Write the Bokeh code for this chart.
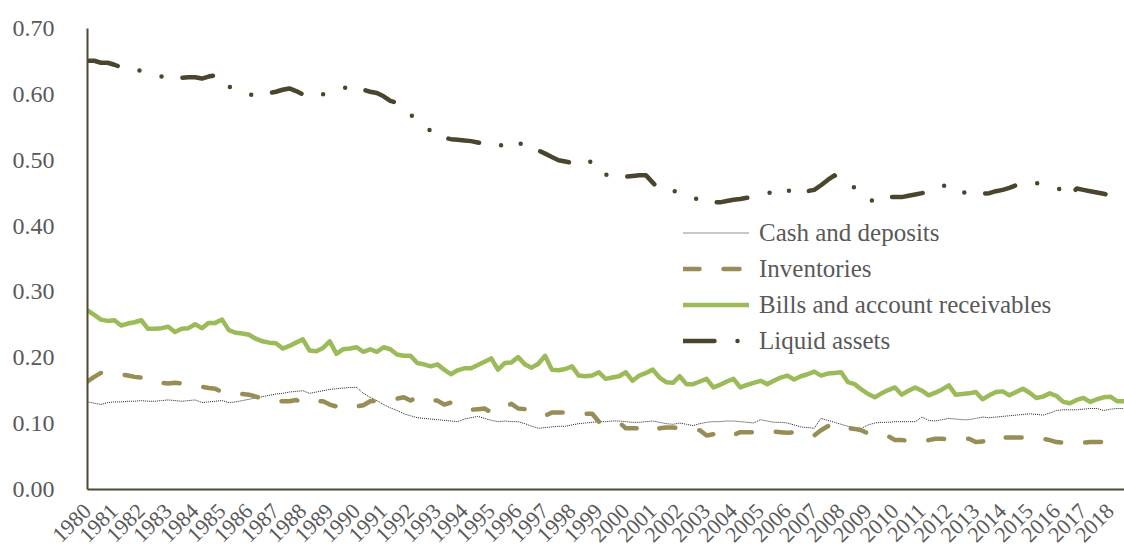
from bokeh.plotting import figure
from bokeh.models import Range1d, FixedTicker, PrintfTickFormatter, Legend, LegendItem
from bokeh.embed import file_html
from bokeh.resources import INLINE
import math

# ---------------- data (quarterly, 1980Q1 .. 2018Q3) ----------------
years = [str(y) for y in range(1980, 2019)]

cash_deposits = [
    0.133, 0.131, 0.129, 0.132, 0.133, 0.133, 0.134, 0.134, 0.135, 0.134,
    0.134, 0.135, 0.136, 0.135, 0.134, 0.135, 0.136, 0.132, 0.133, 0.134,
    0.135, 0.132, 0.133, 0.135, 0.137, 0.139, 0.141, 0.143, 0.145, 0.146,
    0.148, 0.149, 0.150, 0.146, 0.148, 0.150, 0.152, 0.153, 0.154, 0.155,
    0.155, 0.146, 0.140, 0.135, 0.129, 0.124, 0.120, 0.115, 0.112, 0.109,
    0.108, 0.107, 0.106, 0.105, 0.104, 0.103, 0.107, 0.109, 0.111, 0.108,
    0.105, 0.103, 0.104, 0.103, 0.103, 0.100, 0.096, 0.093, 0.094, 0.095,
    0.096, 0.096, 0.098, 0.100, 0.101, 0.102, 0.103, 0.103, 0.104, 0.104,
    0.103, 0.102, 0.102, 0.103, 0.104, 0.102, 0.100, 0.099, 0.101, 0.099,
    0.097, 0.100, 0.102, 0.103, 0.103, 0.104, 0.104, 0.103, 0.102, 0.101,
    0.106, 0.104, 0.102, 0.102, 0.101, 0.098, 0.095, 0.094, 0.093, 0.108,
    0.105, 0.102, 0.099, 0.096, 0.094, 0.093, 0.098, 0.101, 0.102, 0.102,
    0.103, 0.103, 0.103, 0.103, 0.110, 0.105, 0.104, 0.106, 0.108, 0.107,
    0.106, 0.106, 0.108, 0.110, 0.109, 0.110, 0.111, 0.112, 0.113, 0.114,
    0.115, 0.114, 0.113, 0.116, 0.120, 0.121, 0.121, 0.121, 0.122, 0.123,
    0.123, 0.120, 0.122, 0.123, 0.123,
]

inventories = [
    0.164, 0.171, 0.177, 0.178, 0.177, 0.175, 0.173, 0.171, 0.170, 0.166,
    0.163, 0.162, 0.161, 0.162, 0.161, 0.160, 0.158, 0.156, 0.154, 0.153,
    0.148, 0.147, 0.146, 0.145, 0.144, 0.141, 0.138, 0.136, 0.135, 0.134,
    0.134, 0.136, 0.131, 0.132, 0.134, 0.134, 0.129, 0.126, 0.123, 0.124,
    0.126, 0.128, 0.134, 0.135, 0.136, 0.138, 0.138, 0.140, 0.135, 0.140,
    0.137, 0.136, 0.135, 0.129, 0.132, 0.128, 0.124, 0.121, 0.122, 0.123,
    0.117, 0.122, 0.126, 0.130, 0.123, 0.122, 0.120, 0.116, 0.112, 0.117,
    0.117, 0.117, 0.116, 0.115, 0.115, 0.115, 0.103, 0.104, 0.103, 0.102,
    0.093, 0.093, 0.093, 0.094, 0.089, 0.093, 0.094, 0.094, 0.093, 0.092,
    0.091, 0.090, 0.082, 0.084, 0.082, 0.079, 0.083, 0.087, 0.087, 0.087,
    0.086, 0.087, 0.088, 0.087, 0.086, 0.087, 0.088, 0.086, 0.082, 0.090,
    0.096, 0.099, 0.099, 0.093, 0.092, 0.090, 0.085, 0.082, 0.081, 0.081,
    0.075, 0.075, 0.074, 0.074, 0.073, 0.075, 0.077, 0.077, 0.076, 0.076,
    0.077, 0.077, 0.072, 0.073, 0.074, 0.072, 0.079, 0.079, 0.079, 0.079,
    0.078, 0.077, 0.077, 0.075, 0.072, 0.071, 0.070, 0.070, 0.071, 0.072,
    0.072, 0.072, 0.073, 0.073, 0.073,
]

bills_receivables = [
    0.272, 0.265, 0.258, 0.256, 0.257, 0.249, 0.252, 0.254, 0.257, 0.244,
    0.244, 0.245, 0.247, 0.239, 0.244, 0.245, 0.251, 0.245, 0.253, 0.253,
    0.258, 0.242, 0.238, 0.237, 0.235, 0.229, 0.225, 0.223, 0.222, 0.214,
    0.218, 0.223, 0.228, 0.211, 0.210, 0.215, 0.225, 0.206, 0.213, 0.214,
    0.216, 0.209, 0.213, 0.209, 0.216, 0.213, 0.205, 0.203, 0.203, 0.192,
    0.190, 0.187, 0.190, 0.182, 0.175, 0.181, 0.184, 0.184, 0.189, 0.194,
    0.199, 0.182, 0.192, 0.193, 0.201, 0.190, 0.185, 0.191, 0.203, 0.182,
    0.181, 0.183, 0.187, 0.173, 0.172, 0.173, 0.178, 0.168, 0.170, 0.172,
    0.178, 0.165, 0.173, 0.177, 0.182, 0.170, 0.163, 0.162, 0.172, 0.160,
    0.160, 0.164, 0.168, 0.155, 0.159, 0.164, 0.168, 0.155, 0.159, 0.162,
    0.165, 0.160, 0.165, 0.170, 0.173, 0.167, 0.172, 0.175, 0.179, 0.173,
    0.176, 0.177, 0.178, 0.163, 0.160, 0.152, 0.145, 0.140, 0.146, 0.151,
    0.155, 0.144, 0.150, 0.155, 0.150, 0.143, 0.147, 0.152, 0.158, 0.144,
    0.145, 0.146, 0.148, 0.137, 0.143, 0.148, 0.149, 0.143, 0.148, 0.153,
    0.147, 0.139, 0.141, 0.146, 0.142, 0.133, 0.131, 0.136, 0.139, 0.133,
    0.137, 0.140, 0.141, 0.134, 0.134,
]

liquid_assets = [
    0.651, 0.651, 0.648, 0.648, 0.645, 0.641, 0.643, 0.640, 0.635, 0.631,
    0.629, 0.627, 0.626, 0.625, 0.625, 0.626, 0.626, 0.624, 0.627, 0.629,
    0.628, 0.612, 0.606, 0.602, 0.599, 0.600, 0.601, 0.602, 0.604, 0.607,
    0.609, 0.605, 0.600, 0.597, 0.595, 0.600, 0.603, 0.605, 0.609, 0.612,
    0.610, 0.607, 0.604, 0.602, 0.597, 0.590, 0.587, 0.578, 0.570, 0.558,
    0.550, 0.545, 0.538, 0.534, 0.532, 0.531, 0.530, 0.529, 0.527, 0.525,
    0.523, 0.520, 0.526, 0.533, 0.527, 0.522, 0.518, 0.515, 0.510, 0.505,
    0.500, 0.498, 0.496, 0.495, 0.492, 0.500, 0.490, 0.478, 0.476, 0.475,
    0.475, 0.476, 0.477, 0.477, 0.466, 0.455, 0.455, 0.454, 0.450, 0.448,
    0.442, 0.441, 0.438, 0.436, 0.436, 0.438, 0.440, 0.441, 0.443, 0.444,
    0.446, 0.450, 0.452, 0.461, 0.455, 0.449, 0.451, 0.453, 0.455, 0.462,
    0.470, 0.477, 0.467, 0.460, 0.459, 0.450, 0.440, 0.438, 0.443, 0.444,
    0.444, 0.444, 0.446, 0.448, 0.450, 0.453, 0.457, 0.462, 0.460, 0.450,
    0.451, 0.451, 0.450, 0.449, 0.450, 0.453, 0.455, 0.458, 0.462, 0.467,
    0.466, 0.465, 0.464, 0.462, 0.459, 0.452, 0.446, 0.457, 0.455, 0.453,
    0.451, 0.449, 0.447, 0.446, 0.445,
]

quarter = list(range(len(liquid_assets)))
y_ticks = [0.0, 0.1, 0.2, 0.3, 0.4, 0.5, 0.6, 0.7]

# ---------------- styling ----------------
FONT = "Liberation Serif"
TEXT = "#595959"
AXIS = "#4f4a30"

p = figure(width=1124, height=554,
           x_range=Range1d(0, len(quarter) - 0.9), y_range=Range1d(0, 0.70),
           output_backend="svg", toolbar_location=None,
           min_border_left=87, min_border_right=0, min_border_top=28, min_border_bottom=65)
p.outline_line_color = None
p.xgrid.visible = False
p.ygrid.visible = False
p.background_fill_color = "white"
p.border_fill_color = "white"

r_cash = p.line(quarter, cash_deposits, line_color="#222222", line_width=1, line_dash="1 1")
r_inv = p.line(quarter, inventories, line_color="#978d56", line_width=4.5,
               line_dash="16 24", line_cap="round", line_join="round")
r_bills = p.line(quarter, bills_receivables, line_color="#9bbb59", line_width=4.5,
                 line_cap="round", line_join="round")
r_liq = p.line(quarter, liquid_assets, line_color="#4b452d", line_width=4.5,
               line_dash="31 23 0 23 0 21", line_cap="round", line_join="round")

# y axis
p.yaxis.ticker = FixedTicker(ticks=y_ticks)
p.yaxis.formatter = PrintfTickFormatter(format="%.2f")
p.yaxis.major_tick_line_color = None
p.yaxis.minor_tick_line_color = None
p.yaxis.axis_line_color = AXIS
p.yaxis.axis_line_width = 2
p.yaxis.major_label_standoff = 27
p.yaxis.major_label_text_font = FONT
p.yaxis.major_label_text_font_size = "24px"
p.yaxis.major_label_text_color = TEXT

# x axis (one label per year)
year_pos = [4 * k for k in range(len(years))]
p.xaxis.ticker = FixedTicker(ticks=year_pos)
p.xaxis.major_label_overrides = {pos: yr for pos, yr in zip(year_pos, years)}
p.xaxis.major_tick_line_color = None
p.xaxis.minor_tick_line_color = None
p.xaxis.axis_line_color = AXIS
p.xaxis.axis_line_width = 2
p.xaxis.major_label_orientation = math.pi / 4
p.xaxis.major_label_standoff = 12
p.xaxis.major_label_text_font = FONT
p.xaxis.major_label_text_font_size = "22px"
p.xaxis.major_label_text_color = TEXT

legend = Legend(items=[
    LegendItem(label="Cash and deposits", renderers=[r_cash]),
    LegendItem(label="Inventories", renderers=[r_inv]),
    LegendItem(label="Bills and account receivables", renderers=[r_bills]),
    LegendItem(label="Liquid assets", renderers=[r_liq]),
], location=(596, 131), glyph_width=66, glyph_height=35, label_height=35,
    spacing=1, padding=0, margin=0, label_standoff=10,
    border_line_color=None, background_fill_alpha=0,
    label_text_font=FONT, label_text_font_size="25px", label_text_color=TEXT)
p.add_layout(legend)

open("out.html", "w").write(file_html(p, INLINE))
